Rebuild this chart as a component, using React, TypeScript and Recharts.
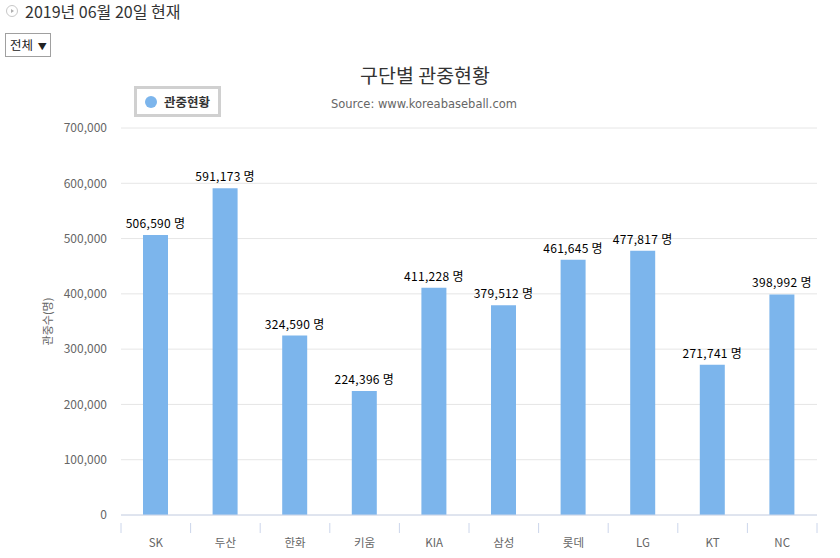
import { Bar, BarChart, CartesianGrid, LabelList, XAxis, YAxis } from 'recharts';

const TEAMS = ['SK', '두산', '한화', '키움', 'KIA', '삼성', '롯데', 'LG', 'KT', 'NC'];
const ATTENDANCE = [506590, 591173, 324590, 224396, 411228, 379512, 461645, 477817, 271741, 398992];
const Y_TICKS = [0, 100000, 200000, 300000, 400000, 500000, 600000, 700000];
// band edges (integers) and band centres (halves) on a 0..10 numeric axis
const EDGE_TICKS = TEAMS.flatMap((_, i) => [i, i + 0.5]).concat([TEAMS.length]);

const FONT = '"Noto Sans CJK KR", "Noto Sans", sans-serif';
const BAR_COLOR = '#7cb5ec';

const chartData = TEAMS.map((team, i) => ({ team, pos: i + 0.5, value: ATTENDANCE[i] }));

const fmt = (v: number) => v.toLocaleString('en-US');

function AxisTitle({ viewBox }: any) {
  const cx = viewBox.x + 47;
  const cy = viewBox.y + viewBox.height / 2;
  return (
    <text
      x={cx}
      y={cy}
      transform={`rotate(-90 ${cx} ${cy})`}
      textAnchor="middle"
      dominantBaseline="central"
      fill="#666"
      fontSize={11}
      fontFamily={FONT}
    >
      관중수(명)
    </text>
  );
}

function ValueLabel({ x, y, width, value }: any) {
  return (
    <text
      x={x + width / 2}
      y={y - 7}
      textAnchor="middle"
      fill="#000"
      fontSize={12}
      letterSpacing={0.3}
      fontFamily={FONT}
    >
      {`${fmt(value)} 명`}
    </text>
  );
}

// integer ticks -> tick line at band edge, half ticks -> team name
function BandTick({ x, y, payload }: any) {
  const v = payload.value;
  if (Number.isInteger(v)) {
    return <line x1={x} x2={x} y1={y} y2={y + 10} stroke="#ccd6eb" />;
  }
  return (
    <text x={x} y={y + 24} textAnchor="middle" fill="#666" fontSize={11.5} fontFamily={FONT}>
      {TEAMS[Math.floor(v)]}
    </text>
  );
}

export default function App() {
  return (
    <div
      style={{
        position: 'absolute',
        left: 0,
        top: 0,
        width: 840,
        height: 558,
        background: '#fff',
        fontFamily: FONT,
        color: '#333',
      }}
    >
      {/* header */}
      <div style={{ position: 'absolute', left: 6, top: 5, width: 12, height: 12, borderRadius: '50%', border: '1px solid #c8c8c8', boxSizing: 'border-box' }}>
        <div style={{ position: 'absolute', left: 4, top: 2.5, width: 0, height: 0, borderTop: '2.5px solid transparent', borderBottom: '2.5px solid transparent', borderLeft: '3.5px solid #b0b0b0' }} />
      </div>
      <div style={{ position: 'absolute', left: 25, top: 0, fontSize: 16, lineHeight: '22px', color: '#333' }}>
        2019년 06월 20일 현재
      </div>
      <div
        style={{
          position: 'absolute',
          left: 5,
          top: 33,
          width: 46,
          height: 24,
          border: '1px solid #a0a0a0',
          boxSizing: 'border-box',
          fontSize: 12.5,
          lineHeight: '22px',
          paddingLeft: 4,
          color: '#222',
        }}
      >
        전체 <span style={{ fontSize: 9, marginLeft: 2 }}>▼</span>
      </div>

      {/* title & subtitle */}
      <div style={{ position: 'absolute', left: 0, width: 850, top: 61, textAlign: 'center', fontSize: 19.5, lineHeight: '28px', color: '#333' }}>
        구단별 관중현황
      </div>
      <div style={{ position: 'absolute', left: 0, width: 848, top: 95, textAlign: 'center', fontSize: 11.5, lineHeight: '18px', color: '#666', fontFamily: '"DejaVu Sans", sans-serif' }}>
        Source: www.koreabaseball.com
      </div>

      {/* legend */}
      <div
        style={{
          position: 'absolute',
          left: 134,
          top: 86,
          width: 87,
          height: 31,
          border: '3px solid #d0d0d0',
          boxSizing: 'border-box',
          display: 'flex',
          alignItems: 'center',
        }}
      >
        <span style={{ marginLeft: 8, width: 12, height: 12, borderRadius: '50%', background: BAR_COLOR, display: 'inline-block' }} />
        <span style={{ marginLeft: 7, fontSize: 12.5, fontWeight: 700, color: '#333' }}>관중현황</span>
      </div>

      <div style={{ position: 'absolute', left: 0, top: 0 }}>
        <BarChart width={840} height={558} data={chartData} margin={{ top: 128, right: 23, bottom: 0, left: 0 }}>
          <CartesianGrid vertical={false} stroke="#e6e6e6" />
          <XAxis xAxisId="cat" dataKey="team" hide height={0} />
          <XAxis
            xAxisId="edge"
            dataKey="pos"
            type="number"
            domain={[0, TEAMS.length]}
            ticks={EDGE_TICKS}
            interval={0}
            tick={<BandTick />}
            axisLine={{ stroke: '#ccd6eb' }}
            tickLine={false}
            height={43}
            allowDataOverflow
          />
          <YAxis
            domain={[0, 700000]}
            ticks={Y_TICKS}
            width={121}
            axisLine={false}
            tickLine={false}
            tickMargin={8}
            tickFormatter={fmt}
            tick={{ fill: '#666', fontSize: 12, fontFamily: FONT }}
            label={<AxisTitle />}
          />
          <Bar xAxisId="cat" dataKey="value" fill={BAR_COLOR} barSize={25} isAnimationActive={false}>
            <LabelList dataKey="value" content={<ValueLabel />} />
          </Bar>
        </BarChart>
      </div>
    </div>
  );
}
